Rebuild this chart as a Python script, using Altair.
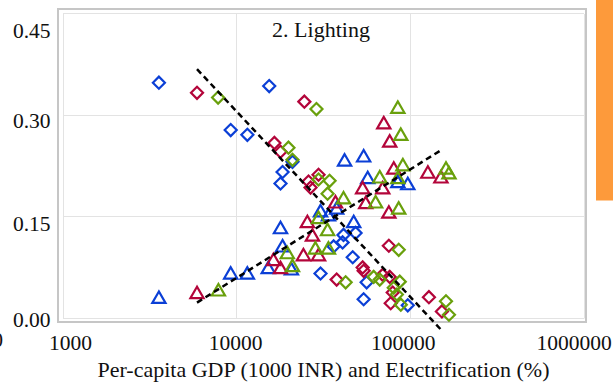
import altair as alt
import pandas as pd

# Lighting share against per-capita GDP (diamonds) and electrification (triangles)
blue_gdp_x = [3590, 15500, 9300, 11600, 21100, 18500, 18000, 48700, 41500, 41000, 36400, 46900, 30600, 56400, 54200, 97300]
blue_gdp_y = [0.347, 0.342, 0.277, 0.270, 0.230, 0.215, 0.198, 0.125, 0.122, 0.111, 0.105, 0.089, 0.065, 0.052, 0.027, 0.018]
blue_elec_x = [3590, 9300, 11600, 15300, 18000, 18500, 20800, 42100, 54200, 57200, 85300, 97300, 30600, 37900, 47500, 34000]
blue_elec_y = [0.030, 0.066, 0.066, 0.074, 0.133, 0.106, 0.072, 0.233, 0.239, 0.207, 0.201, 0.198, 0.158, 0.162, 0.142, 0.152]

red_gdp_x = [5950, 24700, 16600, 18000, 26100, 29800, 26800, 37900, 53500, 54200, 69800, 76600, 75700, 79700, 77600, 128800, 153000]
red_gdp_y = [0.332, 0.319, 0.258, 0.245, 0.201, 0.211, 0.192, 0.056, 0.074, 0.069, 0.063, 0.060, 0.106, 0.037, 0.021, 0.030, 0.009]
red_elec_x = [5950, 16400, 18000, 24400, 29800, 25700, 27500, 37300, 53500, 55700, 70800, 76600, 80800, 69800, 75700, 127000, 151000]
red_elec_y = [0.037, 0.086, 0.074, 0.093, 0.093, 0.142, 0.122, 0.171, 0.192, 0.170, 0.288, 0.261, 0.221, 0.192, 0.156, 0.215, 0.208]

green_gdp_x = [7870, 29000, 20000, 21100, 29800, 34500, 33600, 42700, 61900, 67100, 86300, 87500, 80800, 84200, 88700, 161500, 168000]
green_gdp_y = [0.325, 0.308, 0.251, 0.233, 0.204, 0.202, 0.183, 0.052, 0.060, 0.056, 0.100, 0.053, 0.044, 0.034, 0.019, 0.024, 0.004]
green_elec_x = [7900, 19700, 21100, 28600, 34000, 29800, 33600, 41500, 63500, 67100, 86300, 85300, 88700, 91200, 85300, 161500, 168000]
green_elec_y = [0.041, 0.096, 0.077, 0.103, 0.103, 0.148, 0.130, 0.177, 0.171, 0.208, 0.162, 0.311, 0.271, 0.226, 0.207, 0.221, 0.214]

# Fitted trend lines (end points)
trend_x = [5950, 155000]
trend_gdp_y = [0.367, -0.021]
trend_elec_y = [0.022, 0.249]

x_ticks = [1000, 10000, 100000, 1000000]
y_ticks = [0.0, 0.15, 0.30, 0.45]
panel_title = "2. Lighting"
x_title = "Per-capita GDP (1000 INR) and Electrification (%)"

series_names = ["s1", "s2", "s3"]
series_colors = ["#0b3fd6", "#b3053a", "#69a00c"]

rows = []
for name, xs, ys, kind in [
    ("s1", blue_gdp_x, blue_gdp_y, "gdp"), ("s1", blue_elec_x, blue_elec_y, "elec"),
    ("s2", red_gdp_x, red_gdp_y, "gdp"), ("s2", red_elec_x, red_elec_y, "elec"),
    ("s3", green_gdp_x, green_gdp_y, "gdp"), ("s3", green_elec_x, green_elec_y, "elec"),
]:
    for xv, yv in zip(xs, ys):
        rows.append({"x": xv, "y": yv, "series": name, "kind": kind})
points_df = pd.DataFrame(rows)

trend_df = pd.DataFrame({
    "x": trend_x + trend_x,
    "y": trend_gdp_y + trend_elec_y,
    "line": ["gdp", "gdp", "elec", "elec"],
})

FONT = "Liberation Serif"

x_enc = alt.X(
    "x:Q",
    scale=alt.Scale(type="log", domain=[1000, 1000000], range=[4.5, 525.5], nice=False),
    axis=alt.Axis(values=x_ticks, format="d", title=x_title, ticks=False, domain=False,
                  labelFlush=False, labelBaseline="alphabetic", labelPadding=27,
                  labelOffset={"condition": [{"test": "datum.value < 2000", "value": 7.5},
                                             {"test": "datum.value > 2000 && datum.value < 20000", "value": -1},
                                             {"test": "datum.value > 20000 && datum.value < 200000", "value": -7}],
                               "value": -10},
                  titlePadding=5.5, labelFontSize=21.5, titleFontSize=22),
)
y_enc = alt.Y(
    "y:Q",
    scale=alt.Scale(domain=[0, 0.45], range=[308.5, 4], nice=False, zero=False),
    axis=alt.Axis(values=y_ticks, format=".2f", title=None, ticks=False, domain=False,
                  labelFlush=False, labelPadding=8, labelFontSize=21.5,
                  labelBaseline="alphabetic",
                  labelOffset={"condition": [{"test": "datum.value > 0.4", "value": 24},
                                             {"test": "datum.value > 0.2 && datum.value < 0.4", "value": 13},
                                             {"test": "datum.value > 0.1 && datum.value < 0.2", "value": 14.5}],
                               "value": 9}),
)

points = alt.Chart(points_df).mark_point(filled=False, strokeWidth=2.2, opacity=1).encode(
    x=x_enc,
    y=y_enc,
    color=alt.Color("series:N", scale=alt.Scale(domain=series_names, range=series_colors), legend=None),
    shape=alt.Shape("kind:N", scale=alt.Scale(domain=["gdp", "elec"], range=["diamond", "triangle-up"]), legend=None),
    size=alt.Size("kind:N", scale=alt.Scale(domain=["gdp", "elec"], range=[145, 175]), legend=None),
)

trends = alt.Chart(trend_df).mark_line(color="black", strokeDash=[6, 4], strokeWidth=2.5).encode(
    x="x:Q", y="y:Q", detail="line:N"
)

title_text = alt.Chart(pd.DataFrame({"t": [panel_title]})).mark_text(
    font=FONT, fontSize=22, align="center", baseline="alphabetic", color="#111"
).encode(x=alt.value(263), y=alt.value(27.5), text="t:N")

side_bar = alt.Chart(pd.DataFrame({"k": [0]})).mark_rect(color="#fd9a3b").encode(
    x=alt.value(538), x2=alt.value(570), y=alt.value(-12), y2=alt.value(191.5)
)

edge_label = alt.Chart(pd.DataFrame({"t": ["0"]})).mark_text(
    font=FONT, fontSize=21, align="right", baseline="alphabetic", color="#111"
).encode(x=alt.value(-55), y=alt.value(338), text="t:N")

chart = alt.layer(side_bar, points, trends, title_text, edge_label).properties(
    width=528, height=313,
    autosize=alt.AutoSizeParams(type="none"),
    padding={"left": 58, "top": 9, "right": 27, "bottom": 64},
).configure_view(
    stroke="#c6c6c6", strokeWidth=2
).configure_axis(
    labelFont=FONT, titleFont=FONT, labelColor="#111", titleColor="#111",
    titleFontWeight="normal", gridColor="#e3e3e3", gridWidth=1,
)

chart.save("out.html", embed_options={"renderer": "svg", "actions": False})
